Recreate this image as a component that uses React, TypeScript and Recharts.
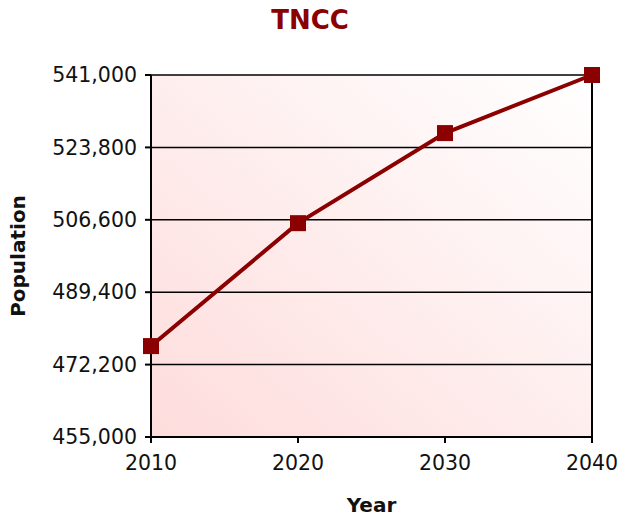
import React from "react";
import {
  LineChart, Line, XAxis, YAxis, CartesianGrid, ReferenceLine, Label,
} from "recharts";

const years = [2010, 2020, 2030, 2040];
const population = [476600, 505800, 527200, 541000];
const yTicks = [455000, 472200, 489400, 506600, 523800, 541000];

const data = years.map((year, i) => ({ year, population: population[i] }));

const RED = "#8b0000";
const FONT = "'DejaVu Sans', Verdana, sans-serif";

const SquareDot = (props: any) => {
  const { cx, cy } = props;
  if (cx == null || cy == null) return null;
  return <rect x={cx - 8} y={cy - 8} width={16} height={16} fill={RED} />;
};

export default function App() {
  return (
    <div style={{ position: "absolute", left: 0, top: 0, width: 619, height: 519, background: "#fff", fontFamily: FONT }}>
      <div
        style={{
          position: "absolute", left: 0, top: 7, width: 620, textAlign: "center",
          fontSize: 26, lineHeight: "26px", fontWeight: "bold", color: RED,
        }}
      >
        TNCC
      </div>
      <LineChart
        width={619}
        height={519}
        data={data}
        margin={{ top: 75, right: 27, bottom: 52, left: 0 }}
      >
        <defs>
          <linearGradient id="bg" x1="0" y1="1" x2="1" y2="0">
            <stop offset="0%" stopColor="#fedcdc" />
            <stop offset="100%" stopColor="#ffffff" />
          </linearGradient>
        </defs>
        <CartesianGrid vertical={false} stroke="#000" strokeWidth={1.5} fill="url(#bg)" fillOpacity={1} />
        <XAxis
          dataKey="year"
          type="number"
          domain={[2010, 2040]}
          ticks={years}
          height={30}
          stroke="#000"
          strokeWidth={2}
          tickSize={6}
          tickMargin={12}
          tick={{ fill: "#111", fontSize: 20.5, fontFamily: FONT }}
        >
          <Label
            content={({ viewBox }: any) => (
              <text
                x={viewBox.x + viewBox.width / 2}
                y={512}
                textAnchor="middle"
                fontSize={20}
                fontWeight="bold"
                fontFamily={FONT}
                fill="#111"
              >
                Year
              </text>
            )}
          />
        </XAxis>
        <YAxis
          type="number"
          domain={[455000, 541000]}
          ticks={yTicks}
          width={151}
          stroke="#000"
          strokeWidth={2}
          tickSize={6}
          tickMargin={8}
          interval={0}
          tickFormatter={(v: number) => v.toLocaleString("en-US")}
          tick={{ fill: "#111", fontSize: 20.5, fontFamily: FONT }}
        >
          <Label
            content={({ viewBox }: any) => {
              const cy = viewBox.y + viewBox.height / 2;
              return (
                <text
                  x={25}
                  y={cy}
                  transform={`rotate(-90, 25, ${cy})`}
                  textAnchor="middle"
                  fontSize={20}
                  fontWeight="bold"
                  fontFamily={FONT}
                  fill="#111"
                >
                  Population
                </text>
              );
            }}
          />
        </YAxis>
        <ReferenceLine x={2040} stroke="#000" strokeWidth={2} />
        <Line
          type="linear"
          dataKey="population"
          stroke={RED}
          strokeWidth={4}
          dot={<SquareDot />}
          activeDot={false}
          isAnimationActive={false}
        />
      </LineChart>
    </div>
  );
}
